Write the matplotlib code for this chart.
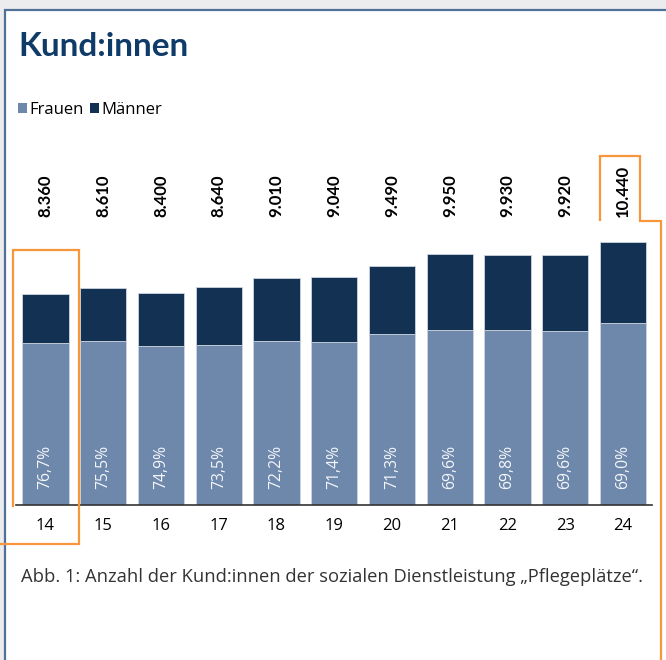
import matplotlib
matplotlib.use("Agg")
import matplotlib.pyplot as plt
from matplotlib.patches import Rectangle, Patch
from matplotlib.lines import Line2D

plt.rcParams["font.family"] = ["Open Sans", "DejaVu Sans"]

# ── Data ──────────────────────────────────────────────────────────────────────
YEARS = ["14", "15", "16", "17", "18", "19", "20", "21", "22", "23", "24"]
TOTALS = [8360, 8610, 8400, 8640, 9010, 9040, 9490, 9950, 9930, 9920, 10440]
FRAUEN_PCT = [76.7, 75.5, 74.9, 73.5, 72.2, 71.4, 71.3, 69.6, 69.8, 69.6, 69.0]
TOTAL_LABELS = ["8.360", "8.610", "8.400", "8.640", "9.010", "9.040",
                "9.490", "9.950", "9.930", "9.920", "10.440"]

C_FRAUEN = "#6e88ac"
C_MAENNER = "#133152"
C_TITLE = "#0f3b69"
C_ORANGE = "#f7963a"
C_BORDER = "#4f7196"
C_BG = "#ececee"

W, H = 666, 660
fig = plt.figure(figsize=(W / 100, H / 100), dpi=100)
fig.patch.set_facecolor(C_BG)


def fx(px):
    return px / W


def fy(py):
    return 1 - py / H


# card
fig.patches.append(Rectangle((fx(5), fy(H + 20)), fx(W + 20), fy(10) - fy(H + 20),
                             transform=fig.transFigure, facecolor="white",
                             edgecolor=C_BORDER, lw=1.6, zorder=-5))

# ── Chart ─────────────────────────────────────────────────────────────────────
ax = fig.add_axes([fx(16), fy(505), fx(652) - fx(16), fy(140) - fy(505)])
ax.set_facecolor("none")
ax.set_zorder(1)

x = list(range(len(YEARS)))
frauen = [t * p / 100 for t, p in zip(TOTALS, FRAUEN_PCT)]
maenner = [t - f for t, f in zip(TOTALS, frauen)]

ax.bar(x, frauen, width=0.8, color=C_FRAUEN, edgecolor="#cdd5e0", lw=0.6)
ax.bar(x, maenner, bottom=frauen, width=0.8, color=C_MAENNER,
       edgecolor="#cdd5e0", lw=0.6)

ax.set_xlim(-0.51, 10.5)
ax.set_ylim(0, 365 / (210.7 / 8360))

trans = ax.get_xaxis_transform()
for i, (lab, pct) in enumerate(zip(TOTAL_LABELS, FRAUEN_PCT)):
    ax.text(i, (505 - 217) / 365, lab, transform=trans, rotation=90,
            ha="center", va="bottom", fontsize=12, fontweight="bold",
            family=["Lato", "DejaVu Sans"], color="black")
    ax.text(i, (505 - 489) / 365, f"{pct:.1f}%".replace(".", ","),
            transform=trans, rotation=90, ha="center", va="bottom",
            fontsize=11.3, color="#f4f6fa")

ax.set_xticks(x)
ax.set_xticklabels(YEARS, fontsize=12, color="black")
ax.tick_params(axis="x", length=0, pad=9)
ax.set_yticks([])
for side in ["top", "right", "left"]:
    ax.spines[side].set_visible(False)
ax.spines["bottom"].set_color("#333333")
ax.spines["bottom"].set_linewidth(1.2)

# ── Text ──────────────────────────────────────────────────────────────────────
fig.text(fx(18), fy(47), "Kund:innen", fontsize=24, fontweight="bold",
         family=["Lato", "DejaVu Sans"], color=C_TITLE, ha="left", va="center")

handles = [Patch(facecolor=C_FRAUEN, label="Frauen"),
           Patch(facecolor=C_MAENNER, label="Männer")]
fig.legend(handles=handles, loc="center left", bbox_to_anchor=(fx(18), fy(110)),
           ncol=2, frameon=False, fontsize=12, handlelength=0.55,
           handleheight=0.55, handletextpad=0.12, columnspacing=0.4,
           borderpad=0, borderaxespad=0)

fig.text(fx(21), fy(577),
         "Abb. 1: Anzahl der Kund:innen der sozialen Dienstleistung „Pflegeplätze“.",
         fontsize=13.2, color="#333333", ha="left", va="center")

# ── Orange highlight outlines ────────────────────────────────────────────────
def orange(xs, ys):
    fig.add_artist(Line2D([fx(v) for v in xs], [fy(v) for v in ys],
                          transform=fig.transFigure, color=C_ORANGE, lw=1.6,
                          solid_joinstyle="miter", zorder=5))


orange([13, 13, 79, 79, 0], [506, 250, 250, 544, 544])
orange([600, 600, 640, 640, 661, 661], [220, 156, 156, 221, 221, 670])

fig.savefig("out.png", dpi=100, facecolor=fig.get_facecolor())
